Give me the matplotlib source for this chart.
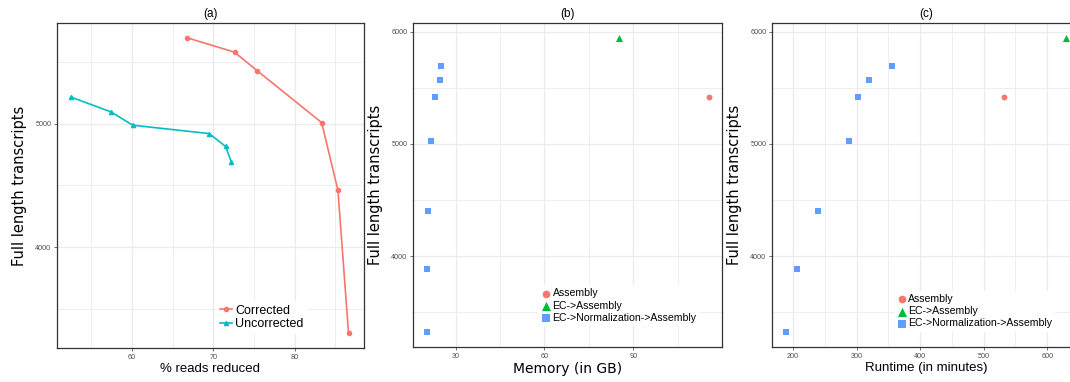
import numpy as np
import matplotlib
matplotlib.use('Agg')
import matplotlib.pyplot as plt
from matplotlib.ticker import MultipleLocator

# panel (a)
corr_x = [66.8, 72.6, 75.4, 83.3, 85.3, 86.6]
corr_y = [5694, 5578, 5427, 5008, 4460, 3304]
unc_x = [52.5, 57.45, 60.1, 69.5, 71.5, 72.2]
unc_y = [5215, 5094, 4987, 4919, 4815, 4691]

# panels (b) and (c)
asm_mem, asm_time, asm_fl = [115.4], [531.6], [5414]
ec_mem, ec_time, ec_fl = [85.1], [629.5], [5947]
norm_mem = [25.1, 24.8, 23.1, 21.7, 20.7, 20.4, 20.4]
norm_time = [355.3, 319.2, 301.9, 287.8, 239.2, 206.3, 189.0]
norm_fl = [5698, 5574, 5414, 5024, 4403, 3888, 3320]

RED, CYAN, GREEN, BLUE = '#F8766D', '#00BFC4', '#00BA38', '#619CFF'
ARIAL = ['Liberation Sans', 'DejaVu Sans']

fig = plt.figure(figsize=(10.7, 3.82), dpi=100)
W, H = 1070, 382


def make_ax(x0, x1, y0, y1):
    return fig.add_axes([x0 / W, 1 - y1 / H, (x1 - x0) / W, (y1 - y0) / H])


def style(ax, xmaj, xmin, ymaj, ymin):
    ax.xaxis.set_major_locator(MultipleLocator(xmaj))
    ax.xaxis.set_minor_locator(MultipleLocator(xmin))
    ax.yaxis.set_major_locator(MultipleLocator(ymaj))
    ax.yaxis.set_minor_locator(MultipleLocator(ymin))
    ax.grid(True, which='major', color='#EBEBEB', lw=0.9)
    ax.grid(True, which='minor', color='#EBEBEB', lw=0.6)
    ax.set_axisbelow(True)
    for s in ax.spines.values():
        s.set_color('#333333')
        s.set_linewidth(0.9)
    ax.tick_params(which='major', length=2, width=0.5, color='#333333',
                   labelsize=5.2, labelcolor='#4D4D4D', pad=2)
    ax.tick_params(which='minor', length=0)
    for lab in ax.get_xticklabels() + ax.get_yticklabels():
        lab.set_family(ARIAL)


# (a)
ax1 = make_ax(57, 364, 23, 348)
ax1.plot(corr_x, corr_y, '-o', color=RED, lw=1.2, ms=3, label='Corrected')
ax1.plot(unc_x, unc_y, '-^', color=CYAN, lw=1.2, ms=3, label='Uncorrected')
ax1.set_xlim(50.8, 88.5)
ax1.set_ylim(3184, 5814)
style(ax1, 10, 5, 1000, 500)
ax1.set_title('(a)', fontsize=8.5, family=ARIAL, pad=4)
ax1.set_xlabel('% reads reduced', fontsize=9.5, family=ARIAL, labelpad=2)
ax1.set_ylabel('Full length transcripts', fontsize=10.5, labelpad=6)
leg = ax1.legend(loc='center left', bbox_to_anchor=(0.5, 0.094), frameon=True,
                 facecolor='white', edgecolor='none', framealpha=1, fancybox=False,
                 prop={'family': ARIAL, 'size': 9}, handlelength=0.9,
                 handletextpad=0.3, labelspacing=0.1, borderpad=0.3)


def scatter_panel(ax, xa, xe, xn):
    ax.scatter(xa, asm_fl, marker='o', s=18, color=RED, lw=0, label='Assembly')
    ax.scatter(xe, ec_fl, marker='^', s=26, color=GREEN, lw=0, label='EC->Assembly')
    ax.scatter(xn, norm_fl, marker='s', s=24, color=BLUE, lw=0,
               label='EC->Normalization->Assembly')
    ax.set_ylim(3189, 6078)
    ax.set_ylabel('Full length transcripts', fontsize=10.5, labelpad=6)


# (b)
ax2 = make_ax(413, 722, 23, 347)
scatter_panel(ax2, asm_mem, ec_mem, norm_mem)
ax2.set_xlim(15.65, 119.9)
style(ax2, 30, 15, 1000, 500)
ax2.set_title('(b)', fontsize=8.5, family=ARIAL, pad=4)
ax2.set_xlabel('Memory (in GB)', fontsize=10, labelpad=2)
ax2.legend(loc='center left', bbox_to_anchor=(0.39, 0.128), frameon=True,
           facecolor='white', edgecolor='none', framealpha=1, fancybox=False,
           prop={'family': ARIAL, 'size': 7.6}, handlelength=0.8, markerscale=1.3,
           handletextpad=0.2, labelspacing=0.2, borderpad=0.3)

# (c)
ax3 = make_ax(772, 1080, 23, 347)
scatter_panel(ax3, asm_time, ec_time, norm_time)
ax3.set_xlim(167, 651.5)
style(ax3, 100, 50, 1000, 500)
ax3.set_title('(c)', fontsize=8.5, family=ARIAL, pad=4)
ax3.set_xlabel('Runtime (in minutes)', fontsize=9.5, family=ARIAL, labelpad=2)
ax3.legend(loc='center left', bbox_to_anchor=(0.38, 0.11), frameon=True,
           facecolor='white', edgecolor='none', framealpha=1, fancybox=False,
           prop={'family': ARIAL, 'size': 7.6}, handlelength=0.8, markerscale=1.3,
           handletextpad=0.2, labelspacing=0.2, borderpad=0.3)

fig.savefig('out.png', dpi=100)
